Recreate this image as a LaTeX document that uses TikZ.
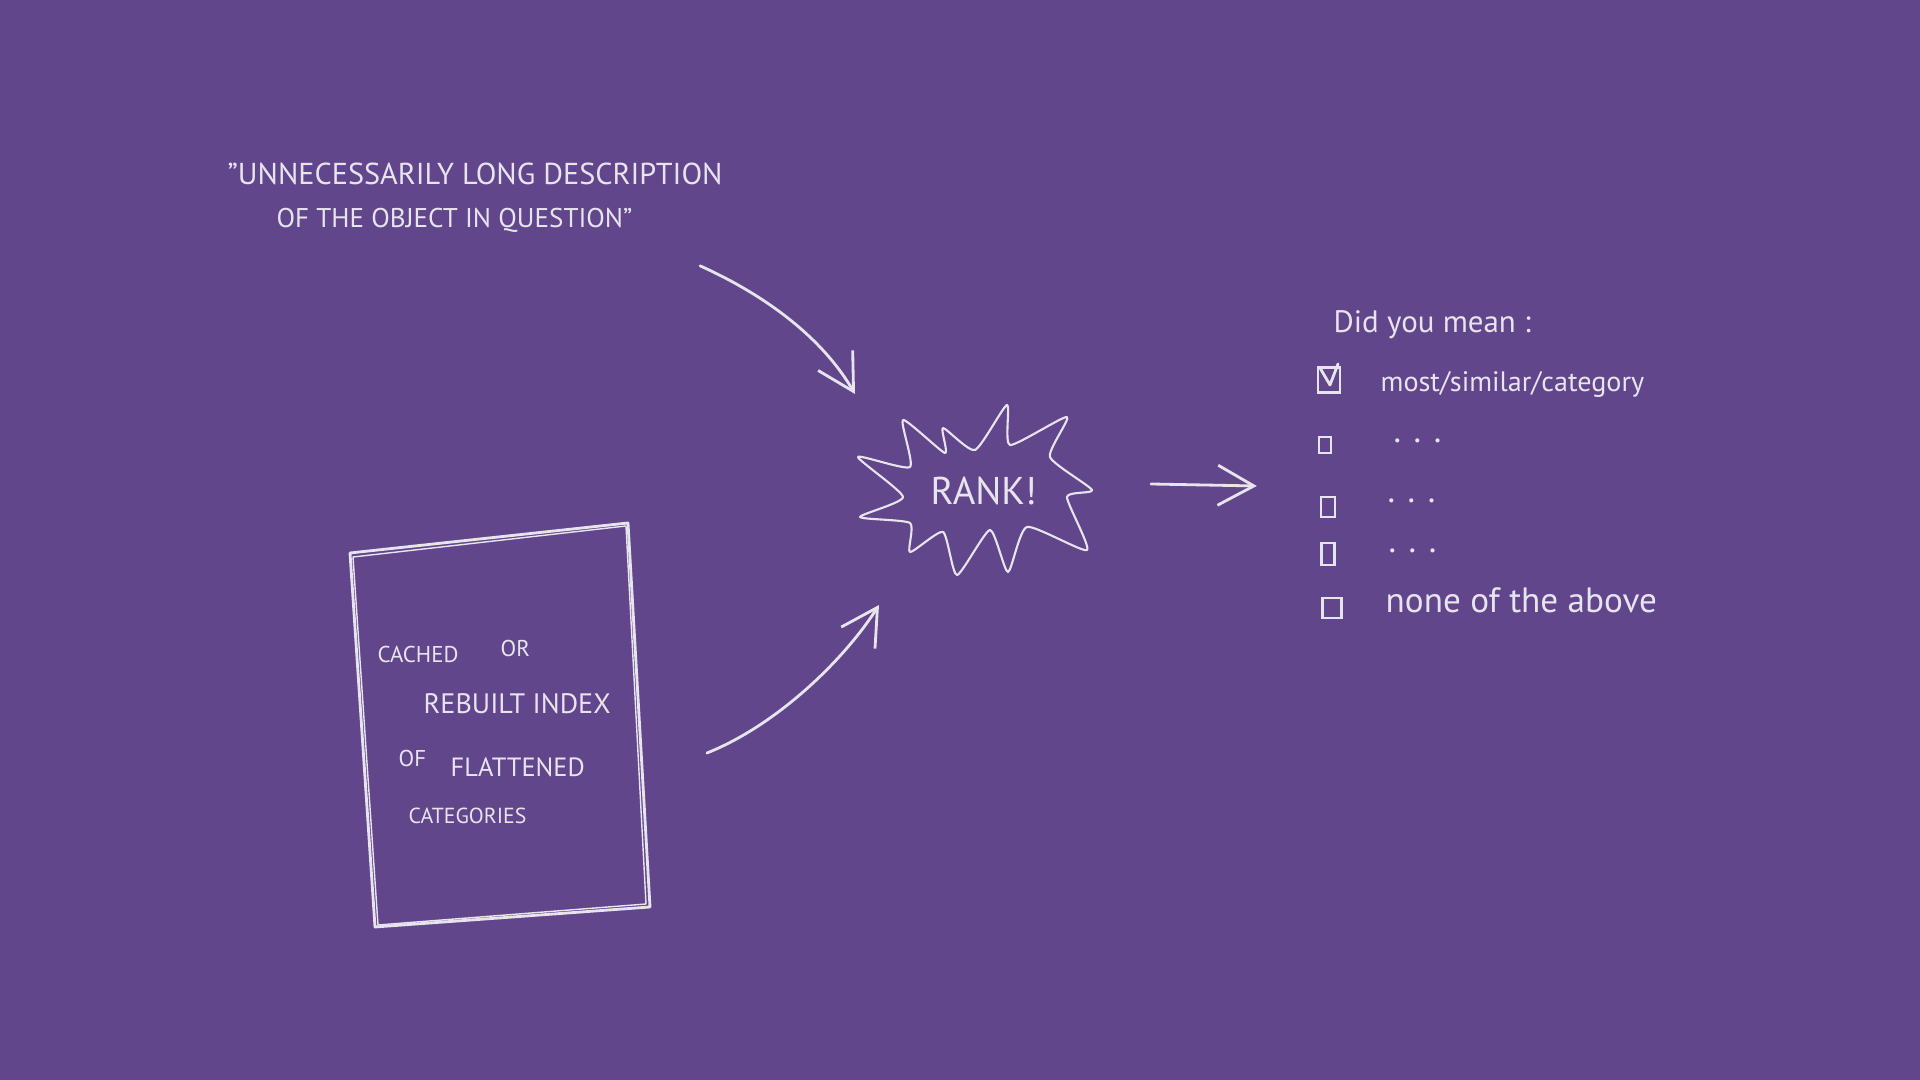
\documentclass[tikz,border=0pt]{standalone}
\usepackage{fontspec}
\setmainfont{PT Sans}
\usetikzlibrary{arrows.meta}

\definecolor{boardpurple}{RGB}{98,70,140}
\definecolor{chalk}{RGB}{232,228,238}

\begin{document}
\begin{tikzpicture}[
        x=0.01cm, y=-0.01cm,
        chalkline/.style={draw=chalk, line width=0.8pt, line cap=round, line join=round},
        chalkarrow/.style={chalkline, -{Straight Barb[length=0.36cm, width=0.4cm, line width=0.8pt]}},
        chalktext/.style={text=chalk, inner sep=0pt, anchor=base west},
        checkbox/.style={draw=chalk, line width=0.7pt, inner sep=0pt},
    ]
    %Background
    \fill[boardpurple] (0,0) rectangle (1920,1080);
    \useasboundingbox (0,0) rectangle (1920,1080);

    %Nodes: description of the object
    \node[chalktext, font=\fontsize{8.6}{8.6}\selectfont] (desc_top) at (227,185) {"UNNECESSARILY LONG DESCRIPTION};
    \node[chalktext, font=\fontsize{7.7}{7.7}\selectfont] (desc_bot) at (276,228) {OF THE OBJECT IN QUESTION"};

    %Index: sketched sheet
    \coordinate (box_tl) at (350,553);
    \coordinate (box_tr) at (628,523);
    \coordinate (box_br) at (650,907);
    \coordinate (box_bl) at (375,927);
    \draw[chalkline] (box_tl) -- (box_tr) -- (box_br) -- (box_bl) -- cycle;
    \draw[chalkline, line width=0.4pt] ([shift={(3,4)}]box_tl) -- ([shift={(-2,3)}]box_tr) -- ([shift={(-4,-3)}]box_br) -- ([shift={(3,-2)}]box_bl) -- cycle;

    \node[chalktext, font=\fontsize{6.5}{6.5}\selectfont] (idx_cached)  at (377,663) {CACHED};
    \node[chalktext, font=\fontsize{6.5}{6.5}\selectfont] (idx_or)      at (500,657) {OR};
    \node[chalktext, font=\fontsize{8}{8}\selectfont]     (idx_rebuilt) at (423,714) {REBUILT INDEX};
    \node[chalktext, font=\fontsize{6.5}{6.5}\selectfont] (idx_of)      at (398,767) {OF};
    \node[chalktext, font=\fontsize{7.5}{7.5}\selectfont] (idx_flat)    at (450,777) {FLATTENED};
    \node[chalktext, font=\fontsize{6.2}{6.2}\selectfont] (idx_cat)     at (408,824) {CATEGORIES};

    %Rank: burst
    \draw[chalkline, line width=0.6pt] plot[smooth cycle, tension=0.35] coordinates {
        (858,457) (910,467) (903,420) (945,453) (943,428) (975,450) (1007,405) (1010,445)
        (1067,417) (1050,457) (1092,490) (1067,497) (1087,550) (1027,527) (1008,572) (990,530)
        (957,575) (943,532) (910,552) (910,523) (860,517) (903,497)};
    \coordinate (burst_e) at (1092,490);
    \coordinate (rank_in_top) at (855,394);
    \coordinate (rank_in_bot) at (879,605);
    \node[chalktext, font=\fontsize{11}{11}\selectfont] (rank) at (930,505) {RANK!};

    %Nodes: suggestions
    \node[chalktext, font=\fontsize{8.8}{8.8}\selectfont] (didyou) at (1333,333) {Did you mean :};

    \node[checkbox, minimum width=0.22cm, minimum height=0.25cm] (cb1) at (1329,380) {};
    \node[checkbox, minimum width=0.12cm, minimum height=0.16cm] (cb2) at (1325,445) {};
    \node[checkbox, minimum width=0.14cm, minimum height=0.20cm] (cb3) at (1328,507) {};
    \node[checkbox, minimum width=0.13cm, minimum height=0.22cm] (cb4) at (1328,554) {};
    \node[checkbox, minimum width=0.19cm, minimum height=0.20cm] (cb5) at (1332,608) {};
    \draw[chalkline] ([shift={(-9,-12)}]cb1.center) -- ([shift={(1,5)}]cb1.center) -- ([shift={(9,-16)}]cb1.center);

    \node[chalktext, font=\fontsize{8}{8}\selectfont]   (sugg1) at (1380,392) {most/similar/category};
    \node[chalktext, font=\fontsize{10}{10}\selectfont] (sugg2) at (1393,443) {. . .};
    \node[chalktext, font=\fontsize{10}{10}\selectfont] (sugg3) at (1387,503) {. . .};
    \node[chalktext, font=\fontsize{10}{10}\selectfont] (sugg4) at (1388,553) {. . .};
    \node[chalktext, font=\fontsize{10}{10}\selectfont] (sugg5) at (1385,613) {none of the above};

    %Arrows: into and out of the ranking
    \draw[chalkarrow] ([shift={(67,45)}]desc_bot.east) .. controls +(60,27) and +(-35,-60) .. (rank_in_top);
    \draw[chalkarrow] ([shift={(57,-154)}]box_br) .. controls +(70,-28) and +(-35,55) .. (rank_in_bot);
    \draw[chalkarrow] ([shift={(59,-6)}]burst_e) -- ([shift={(-63,-21)}]cb3.west);
\end{tikzpicture}
\end{document}
